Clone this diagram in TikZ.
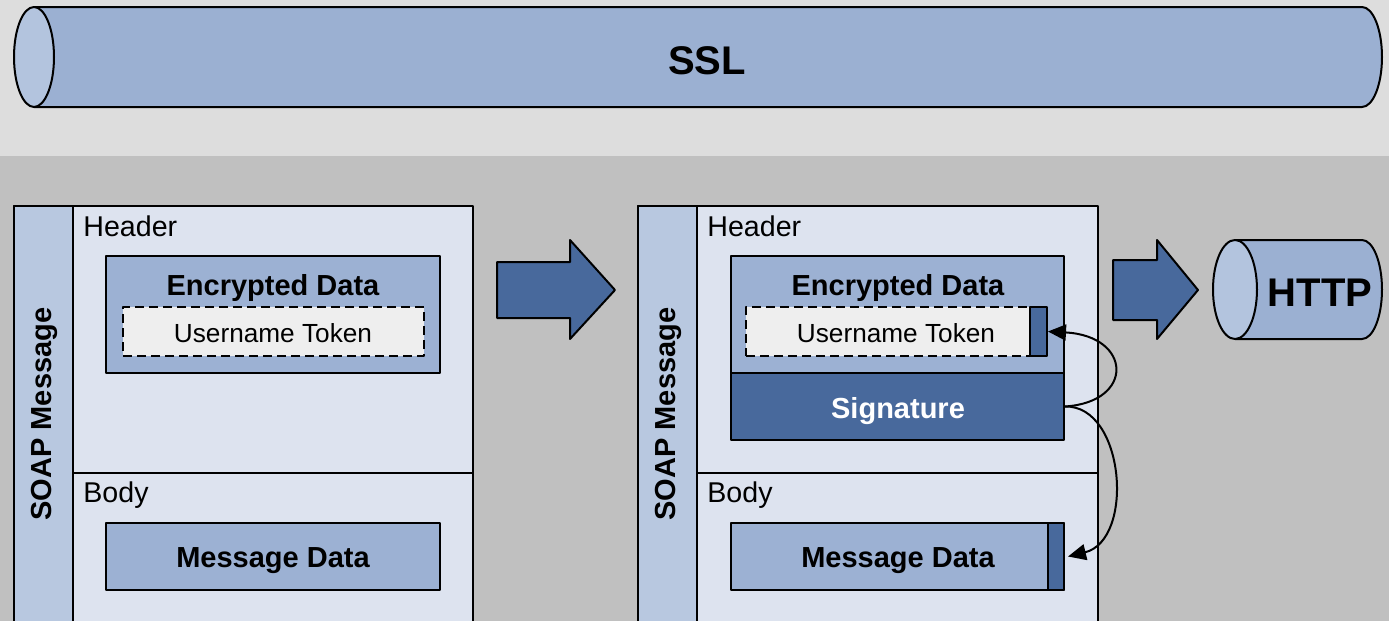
\documentclass[tikz,border=0pt]{standalone}
\usepackage{fontspec}
\setmainfont{Liberation Sans}
\usetikzlibrary{fit,arrows.meta}

\definecolor{bgtop}{HTML}{DDDDDD}
\definecolor{bgbot}{HTML}{C0C0C0}
\definecolor{pipe}{HTML}{9BB0D2}
\definecolor{pipeface}{HTML}{B3C4DE}
\definecolor{msgfill}{HTML}{DDE3EF}
\definecolor{stripfill}{HTML}{B8C8E0}
\definecolor{encfill}{HTML}{9CB1D3}
\definecolor{tokfill}{HTML}{EEEEEE}
\definecolor{darkblue}{HTML}{48699C}

\tikzset{
  every picture/.style={line join=round},
  outline/.style={draw=black, line width=1pt},
  region/.style={outline, inner sep=0pt},
  tokenbox/.style={region, fill=tokfill, dash pattern=on 4.5pt off 2.5pt},
  lbl/.style={inner sep=0pt, font=\fontsize{14.3}{17}\selectfont},
  boldlbl/.style={inner sep=0pt, font=\fontsize{14.5}{17}\selectfont\bfseries},
  biglbl/.style={inner sep=0pt, font=\fontsize{20}{24}\selectfont\bfseries},
  toklbl/.style={inner sep=0pt, font=\fontsize{13.1}{16}\selectfont},
  blockarrow/.style={outline, fill=darkblue},
  link/.style={draw=black, line width=1pt, -{Triangle[length=9pt,width=8pt]}},
}

\begin{document}
\begin{tikzpicture}[x=0.5pt, y=-0.5pt]
\useasboundingbox (0,0) rectangle (1389,621);
\clip (0,0) rectangle (1389,621);

% backgrounds
\fill[bgtop] (0,0) rectangle (1389,156);
\fill[bgbot] (0,156) rectangle (1389,621);

% SSL pipe
\path[outline, fill=pipe] (34,7) -- (1362,7)
  arc[start angle=-90, end angle=90, x radius=20, y radius=50] -- (34,107) -- cycle;
\draw[outline, fill=pipeface] (34,57) ellipse [x radius=20, y radius=50];
\node[biglbl] (ssl) at (707,61) {SSL};

% ---------- left SOAP message ----------
\node[region, fill=msgfill, fit={(14,206) (473,660)}] (msgA) {};
\node[region, fill=stripfill, fit={(14,206) (73,660)}] (stripA) {};
\draw[outline] (73,473) -- (473,473);
\node[lbl, anchor=base west] (hdrA) at (83,236) {Header};
\node[lbl, anchor=base west] (bodyA) at (83,502) {Body};
\node[boldlbl, rotate=90] (soapA) at (44.5,414) {SOAP Message};

\node[region, fill=encfill, fit={(106,256) (440,373)}] (encA) {};
\node[boldlbl] (encAt) at (273,288) {Encrypted Data};
\node[tokenbox, fit={(123,307) (424,356)}] (tokA) {};
\node[toklbl] (tokAt) at (273,333) {Username Token};

\node[region, fill=encfill, fit={(106,523) (440,590)}] (dataA) {};
\node[boldlbl] (dataAt) at (273,561) {Message Data};

% transform arrow
\draw[blockarrow] (497,262) -- (570,262) -- (570,240) -- (615,290)
  -- (570,339) -- (570,318) -- (497,318) -- cycle;

% ---------- right SOAP message ----------
\node[region, fill=msgfill, fit={(638,206) (1098,660)}] (msgB) {};
\node[region, fill=stripfill, fit={(638,206) (697,660)}] (stripB) {};
\draw[outline] (697,473) -- (1098,473);
\node[lbl, anchor=base west] (hdrB) at (707,236) {Header};
\node[lbl, anchor=base west] (bodyB) at (707,502) {Body};
\node[boldlbl, rotate=90] (soapB) at (668.5,414) {SOAP Message};

\node[region, fill=encfill, fit={(731,256) (1064,373)}] (encB) {};
\node[boldlbl] (encBt) at (898,288) {Encrypted Data};
\node[tokenbox, fit={(746,307) (1030,356)}] (tokB) {};
\node[region, fill=darkblue, fit={(1030,307) (1047,356)}] (tokBmark) {};
\node[toklbl] (tokBt) at (896,333) {Username Token};

\node[region, fill=darkblue, fit={(731,373) (1064,440)}] (sig) {};
\node[boldlbl, text=white] (sigt) at (898,411) {Signature};

\node[region, fill=encfill, fit={(731,523) (1064,590)}] (dataB) {};
\node[region, fill=darkblue, fit={(1048,523) (1064,590)}] (dataBmark) {};
\node[boldlbl] (dataBt) at (898,561) {Message Data};

% signature references
\draw[link] (sig.east) .. controls (1135,402) and (1132,336) .. (tokBmark.east);
\draw[link] (sig.east) .. controls (1125,405) and (1135,540) .. ([xshift=1.5pt]dataBmark.east);

% transport arrow
\draw[blockarrow] (1113,260) -- (1157,260) -- (1157,240) -- (1198,290)
  -- (1157,339) -- (1157,320) -- (1113,320) -- cycle;

% HTTP pipe
\path[outline, fill=pipe] (1235,240) -- (1362,240)
  arc[start angle=-90, end angle=90, x radius=20, y radius=49.5] -- (1235,339) -- cycle;
\draw[outline, fill=pipeface] (1235,289.5) ellipse [x radius=22, y radius=49.5];
\node[biglbl] (http) at (1320,293) {HTTP};
\end{tikzpicture}
\end{document}
